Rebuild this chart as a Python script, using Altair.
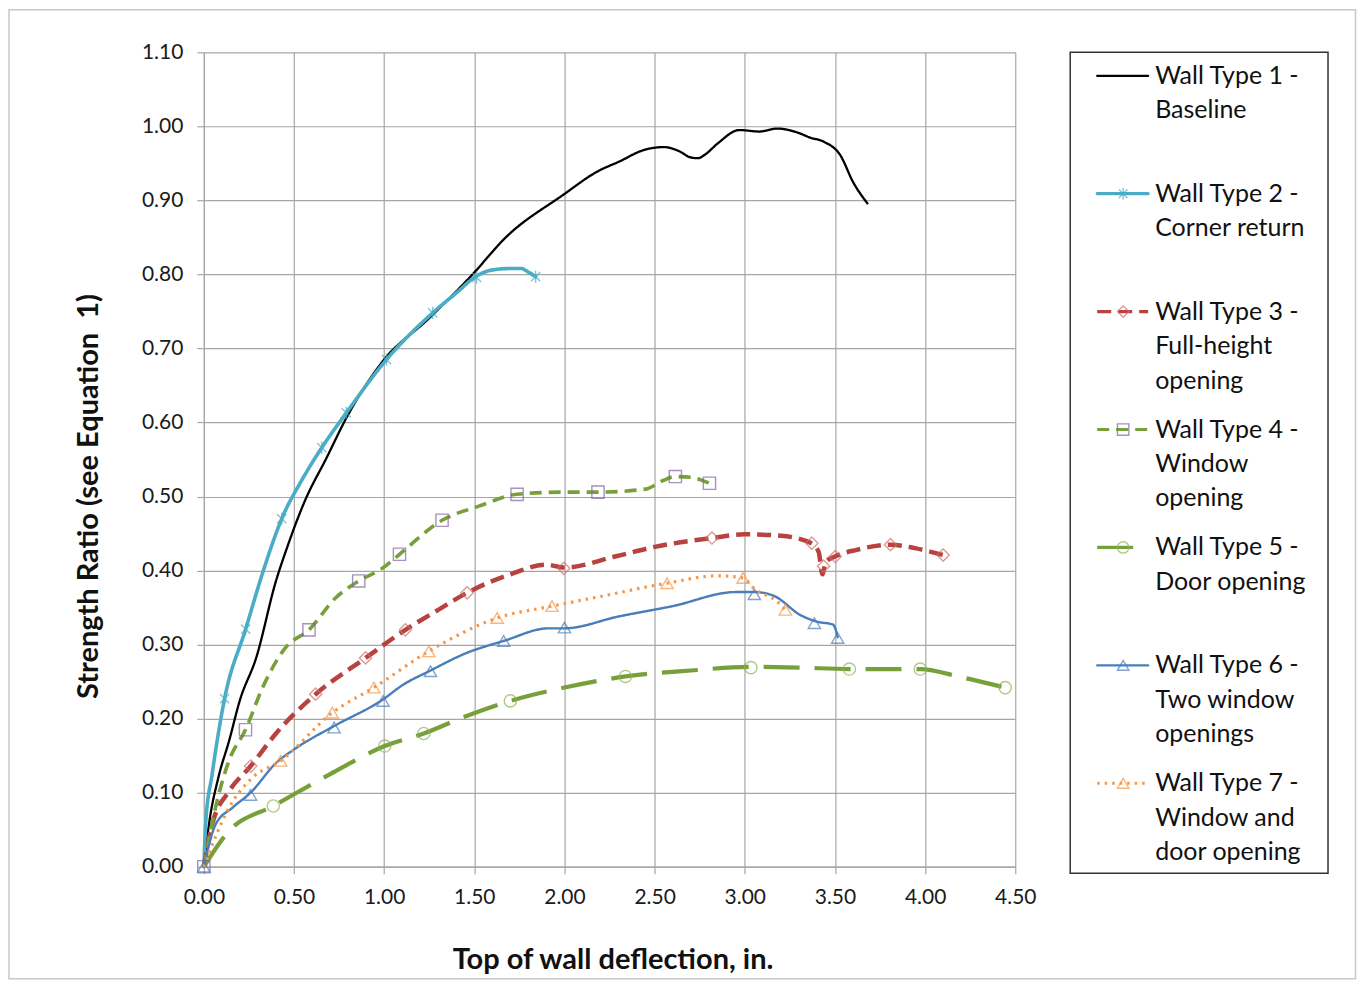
import altair as alt
import pandas as pd

# ---------------- data ----------------
series_names = ["WT1", "WT2", "WT3", "WT4", "WT5", "WT6", "WT7"]

wt1_x = [0, 0.03, 0.08, 0.14, 0.20, 0.29, 0.40, 0.46, 0.56, 0.68, 0.79, 0.99, 1.25, 1.49, 1.67, 1.99, 2.19, 2.30, 2.44, 2.55, 2.64, 2.70, 2.74, 2.78, 2.85, 2.97, 3.08, 3.18, 3.30, 3.36, 3.44, 3.53, 3.60, 3.68]
wt1_y = [0, 0.06, 0.12, 0.17, 0.225, 0.282, 0.386, 0.43, 0.494, 0.552, 0.606, 0.682, 0.741, 0.80, 0.849, 0.907, 0.940, 0.952, 0.968, 0.972, 0.966, 0.958, 0.957, 0.962, 0.977, 0.995, 0.993, 0.997, 0.991, 0.985, 0.979, 0.961, 0.925, 0.896]

wt2_x = [0, 0.01, 0.046, 0.115, 0.232, 0.33, 0.432, 0.55, 0.654, 0.79, 1.013, 1.269, 1.40, 1.513, 1.60, 1.70, 1.76, 1.80, 1.84]
wt2_y = [0, 0.058, 0.125, 0.227, 0.321, 0.40, 0.47, 0.525, 0.566, 0.613, 0.685, 0.748, 0.775, 0.798, 0.806, 0.808, 0.808, 0.803, 0.797]
wt2_mx = [0.115, 0.232, 0.432, 0.654, 0.79, 1.013, 1.269, 1.513, 1.84]
wt2_my = [0.227, 0.321, 0.47, 0.566, 0.613, 0.685, 0.748, 0.796, 0.797]

wt3_x = [0, 0.046, 0.14, 0.26, 0.40, 0.62, 0.897, 1.118, 1.30, 1.46, 1.70, 1.90, 2.0, 2.28, 2.50, 2.818, 3.00, 3.20, 3.37, 3.41, 3.43, 3.45, 3.50, 3.62, 3.808, 3.95, 4.10]
wt3_y = [0, 0.057, 0.102, 0.136, 0.18, 0.233, 0.282, 0.32, 0.347, 0.37, 0.395, 0.408, 0.404, 0.419, 0.432, 0.444, 0.449, 0.447, 0.437, 0.425, 0.395, 0.412, 0.419, 0.428, 0.435, 0.43, 0.421]
wt3_mx = [0.26, 0.62, 0.897, 1.118, 1.46, 1.996, 2.818, 3.372, 3.437, 3.502, 3.808, 4.10]
wt3_my = [0.136, 0.233, 0.282, 0.32, 0.37, 0.403, 0.444, 0.437, 0.406, 0.419, 0.435, 0.421]

wt4_x = [0, 0.065, 0.139, 0.231, 0.324, 0.453, 0.583, 0.73, 0.859, 0.989, 1.085, 1.321, 1.525, 1.737, 2.0, 2.186, 2.45, 2.55, 2.615, 2.70, 2.804]
wt4_y = [0, 0.08, 0.143, 0.185, 0.241, 0.296, 0.32, 0.363, 0.386, 0.403, 0.422, 0.468, 0.487, 0.503, 0.506, 0.506, 0.51, 0.522, 0.527, 0.526, 0.518]
wt4_mx = [0, 0.231, 0.583, 0.859, 1.085, 1.321, 1.737, 2.186, 2.615, 2.804]
wt4_my = [0, 0.185, 0.32, 0.386, 0.422, 0.468, 0.503, 0.506, 0.527, 0.518]

wt5_x = [0, 0.139, 0.385, 0.70, 1.003, 1.22, 1.45, 1.70, 2.0, 2.338, 2.70, 3.034, 3.30, 3.58, 3.973, 4.20, 4.444]
wt5_y = [0, 0.048, 0.082, 0.125, 0.163, 0.18, 0.203, 0.224, 0.242, 0.257, 0.265, 0.27, 0.269, 0.267, 0.267, 0.256, 0.242]
wt5_mx = [0.385, 1.003, 1.22, 1.70, 2.338, 3.034, 3.58, 3.973, 4.444]
wt5_my = [0.082, 0.163, 0.18, 0.224, 0.257, 0.269, 0.267, 0.267, 0.242]

wt6_x = [0, 0.065, 0.16, 0.259, 0.40, 0.51, 0.722, 0.994, 1.10, 1.257, 1.45, 1.663, 1.913, 2.0, 2.30, 2.60, 2.95, 3.053, 3.16, 3.308, 3.40, 3.49, 3.515]
wt6_y = [0, 0.057, 0.08, 0.10, 0.14, 0.16, 0.19, 0.226, 0.245, 0.265, 0.288, 0.305, 0.322, 0.322, 0.338, 0.352, 0.371, 0.371, 0.366, 0.34, 0.331, 0.327, 0.31]
wt6_mx = [0, 0.259, 0.722, 0.994, 1.257, 1.663, 2.0, 3.053, 3.386, 3.515]
wt6_my = [0, 0.097, 0.188, 0.224, 0.264, 0.305, 0.323, 0.368, 0.329, 0.309]

wt7_x = [0, 0.14, 0.268, 0.426, 0.712, 0.943, 1.248, 1.627, 1.931, 2.2, 2.569, 2.85, 2.99, 3.05, 3.18, 3.225]
wt7_y = [0, 0.08, 0.12, 0.143, 0.208, 0.242, 0.291, 0.336, 0.352, 0.365, 0.383, 0.393, 0.39, 0.376, 0.358, 0.347]
wt7_mx = [0.426, 0.712, 0.943, 1.248, 1.627, 1.931, 2.569, 2.99, 3.225]
wt7_my = [0.143, 0.208, 0.242, 0.291, 0.336, 0.352, 0.383, 0.39, 0.347]

legend_labels = [
    "Wall Type 1 -\nBaseline",
    "Wall Type 2 -\nCorner return",
    "Wall Type 3 -\nFull-height\nopening",
    "Wall Type 4 -\nWindow\nopening",
    "Wall Type 5 -\nDoor opening",
    "Wall Type 6 -\nTwo window\nopenings",
    "Wall Type 7 -\nWindow and\ndoor opening",
]

x_ticks = [0, 0.5, 1.0, 1.5, 2.0, 2.5, 3.0, 3.5, 4.0, 4.5]
y_ticks = [0, 0.1, 0.2, 0.3, 0.4, 0.5, 0.6, 0.7, 0.8, 0.9, 1.0, 1.1]

# ---------------- styles ----------------
line_colors = ["#000000", "#4BACC6", "#B8423F", "#77A03A", "#77A03A", "#4A7EBB", "#F79646"]
line_dash = [[1, 0], [1, 0], [14, 7], [12, 7], [36, 15], [1, 0], [2.5, 5]]
line_width = [2.3, 3.6, 4.5, 3.6, 4.2, 2.4, 3.2]
marker_series = ["WT2", "WT3", "WT4", "WT5", "WT6", "WT7"]
marker_colors = ["#4BACC6", "#D0706C", "#8064A2", "#8DB55A", "#4A7EBB", "#F79646"]
star = "M-0.75,-0.75L0.75,0.75M-0.75,0.75L0.75,-0.75M0,-1L0,1"
marker_shapes = [star, "diamond", "square", "circle", "triangle-up", "triangle-up"]

FONT = "Lato"

# ---------------- tables ----------------
line_rows = []
for name, xs, ys in zip(series_names,
                        [wt1_x, wt2_x, wt3_x, wt4_x, wt5_x, wt6_x, wt7_x],
                        [wt1_y, wt2_y, wt3_y, wt4_y, wt5_y, wt6_y, wt7_y]):
    for i, (a, b) in enumerate(zip(xs, ys)):
        line_rows.append({"series": name, "order": i, "x": a, "y": b})
lines_df = pd.DataFrame(line_rows)

mark_rows = []
for name, xs, ys in zip(marker_series,
                        [wt2_mx, wt3_mx, wt4_mx, wt5_mx, wt6_mx, wt7_mx],
                        [wt2_my, wt3_my, wt4_my, wt5_my, wt6_my, wt7_my]):
    for a, b in zip(xs, ys):
        mark_rows.append({"series": name, "x": a, "y": b})
marks_df = pd.DataFrame(mark_rows)

legend_df = pd.DataFrame({"series": series_names, "label": legend_labels,
                          "row": list(range(len(series_names)))})
legend_marks_df = legend_df[legend_df["series"].isin(marker_series)]

stroke_scale = alt.Scale(domain=marker_series, range=marker_colors)
shape_scale = alt.Scale(domain=marker_series, range=marker_shapes)

GRID = "#A6A6A6"
W, H = 812, 815

x_enc = alt.X("x:Q", scale=alt.Scale(domain=[0, 4.5], nice=False),
              axis=alt.Axis(values=x_ticks, format=".2f", grid=True, gridColor=GRID,
                            gridWidth=1.2, domainColor=GRID, domainWidth=1.2,
                            tickColor=GRID, tickSize=7, tickWidth=1.2,
                            labelFont=FONT, labelFontSize=21, labelColor="#1a1a1a",
                            labelPadding=13, labelFlush=False,
                            title="Top of wall deflection, in.", titleFont=FONT,
                            titleFontSize=29, titleFontWeight="bold", titleColor="#111111",
                            titleX=409, titleY=93, titleBaseline="middle", titleAlign="center"))
y_enc = alt.Y("y:Q", scale=alt.Scale(domain=[0, 1.1], nice=False),
              axis=alt.Axis(values=y_ticks, format=".2f", grid=True, gridColor=GRID,
                            gridWidth=1.2, domainColor=GRID, domainWidth=1.2,
                            tickColor=GRID, tickSize=7, tickWidth=1.2,
                            labelFont=FONT, labelFontSize=21, labelColor="#1a1a1a",
                            labelPadding=14, labelFlush=False,
                            title="Strength Ratio (see Equation\u00a0 1)", titleFont=FONT,
                            titleFontSize=29, titleFontWeight="bold", titleColor="#111111",
                            titleX=-115, titleY=444, titleAngle=-90,
                            titleBaseline="middle", titleAlign="center"))

layers = []
# decorative outer frame of the whole figure (kept inside the browser window)
frame = alt.Chart(pd.DataFrame({"a": [0]})).mark_rect(
    fill=None, stroke="#C8C8C8", strokeWidth=1.5
).encode(x=alt.value(-195), x2=alt.value(1152.5), y=alt.value(-42.5), y2=alt.value(927))
layers.append(frame)

base = alt.Chart(lines_df)
for i, name in enumerate(series_names):
    enc = {"x": x_enc, "y": y_enc} if i == 0 else {"x": "x:Q", "y": "y:Q"}
    layers.append(
        base.transform_filter(alt.datum.series == name)
        .mark_line(interpolate="monotone", strokeCap="butt" if line_dash[i][1] else "round",
                   color=line_colors[i], strokeDash=line_dash[i], strokeWidth=line_width[i])
        .encode(order="order:Q", **enc)
    )

points = alt.Chart(marks_df).mark_point(filled=False, size=150, strokeWidth=1.4).encode(
    x="x:Q", y="y:Q",
    stroke=alt.Stroke("series:N", scale=stroke_scale, legend=None),
    shape=alt.Shape("series:N", scale=shape_scale, legend=None),
)
layers.append(points)

main = alt.layer(*layers).properties(
    width=W, height=H, view=alt.ViewBackground(stroke=None)
)

# ---------------- hand-drawn legend panel ----------------
LH = 821.5
row_scale = alt.Scale(domain=[-0.199, 6.763], reverse=True, nice=False, zero=False)
row_y = alt.Y("row:Q", scale=row_scale, axis=None)

leg_layers = []
leg_base = alt.Chart(legend_df)
for i, name in enumerate(series_names):
    leg_layers.append(
        leg_base.transform_filter(alt.datum.series == name)
        .mark_rule(color=line_colors[i], strokeDash=line_dash[i],
                   strokeWidth=min(line_width[i], 3.2),
                   strokeCap="butt" if line_dash[i][1] else "round")
        .encode(x=alt.value(27), x2=alt.value(78), y=row_y)
    )
leg_points = alt.Chart(legend_marks_df).mark_point(filled=False, size=130, strokeWidth=1.4).encode(
    x=alt.value(53), y=row_y,
    stroke=alt.Stroke("series:N", scale=stroke_scale, legend=None),
    shape=alt.Shape("series:N", scale=shape_scale, legend=None),
)
leg_text = alt.Chart(legend_df).mark_text(
    align="left", baseline="top", lineBreak="\n", lineHeight=34.5,
    font=FONT, fontSize=25, color="#111111", dy=-12,
).encode(x=alt.value(85), y=row_y, text="label:N")
leg_layers += [leg_points, leg_text]

legend = alt.layer(*leg_layers).properties(
    width=258, height=LH,
    view=alt.ViewBackground(stroke="#333333", strokeWidth=1.5),
)

chart = alt.hconcat(main, legend, spacing=55, bounds="flush").properties(
    padding={"left": 0, "top": 0, "right": 0, "bottom": 0},
).configure_view(stroke=None)

chart.save("out.html", embed_options={"renderer": "svg", "actions": False})
